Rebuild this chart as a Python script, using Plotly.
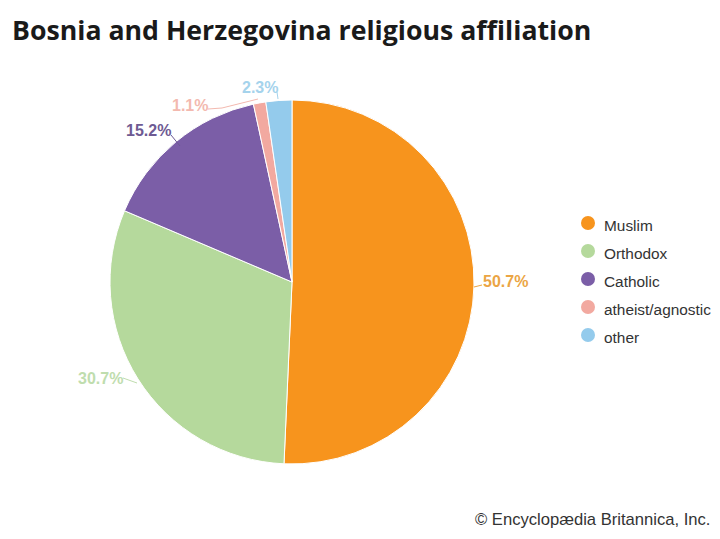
import plotly.graph_objects as go

categories = ["Muslim", "Orthodox", "Catholic", "atheist/agnostic", "other"]
shares = [50.7, 30.7, 15.2, 1.1, 2.3]
colors = ["#F7941D", "#B5D99C", "#7B5EA7", "#F2A9A0", "#94CBEC"]
label_colors = ["#EBA544", "#BFDDAE", "#6E5A93", "#F3B9AF", "#A5D3EC"]
# where each percentage label sits, as pixels in the 720x539 page
label_spots = [(505, 281), (100, 378), (148, 130), (190, 105), (260, 87)]
# little lines from the pie out to the labels
leaders = [
    [(474, 287), (482, 285)],
    [(123, 378), (137, 383)],
    [(171, 135), (180, 146)],
    [(208, 109), (222, 108), (258, 99)],
    [(277, 92), (278, 99)],
]

# the page has an 8px body margin, so the figure is smaller than the window
W, H = 704, 523
MARGIN = 8


def px_x(v):
    return (v - MARGIN) / W


def px_y(v):
    return 1 - (v - MARGIN) / H


fig = go.Figure()

fig.add_trace(go.Pie(
    labels=categories,
    values=shares,
    sort=False,
    direction="clockwise",
    rotation=0,
    textinfo="none",
    hoverinfo="label+percent",
    showlegend=False,
    marker=dict(colors=colors, line=dict(color="white", width=1)),
    domain=dict(x=[px_x(110), px_x(474)], y=[px_y(464), px_y(100)]),
))

# native legend can't get this spacing, so the key is a small scatter on its own axes
fig.add_trace(go.Scatter(
    x=[0] * len(categories), y=categories, mode="markers", showlegend=False,
    hoverinfo="y", cliponaxis=False,
    marker=dict(color=colors, size=14, symbol="circle"),
))

annotations = []
for value, color, (x, y) in zip(shares, label_colors, label_spots):
    annotations.append(dict(
        x=px_x(x), y=px_y(y), xref="paper", yref="paper", showarrow=False,
        xanchor="center", yanchor="middle",
        text=f"<b>{value}%</b>",
        font=dict(family="Liberation Sans", size=16, color=color),
    ))
for name in categories:
    annotations.append(dict(
        x=0, y=name, xref="x", yref="y", showarrow=False,
        xanchor="left", xshift=14, yshift=-3, text=name,
        font=dict(family="Liberation Sans", size=15.4, color="#333333"),
    ))
# kept a touch high so the text box stays inside the figure
annotations.append(dict(
    x=px_x(710), y=px_y(519), xref="paper", yref="paper", showarrow=False,
    xanchor="right", yanchor="middle", text="© Encyclopædia Britannica, Inc.",
    borderpad=0, borderwidth=0,
    font=dict(family="Liberation Sans", size=16.6, color="#333333"),
))

shapes = []
for pts, color in zip(leaders, label_colors):
    path = "M " + " L ".join(f"{px_x(x)} {px_y(y)}" for x, y in pts)
    shapes.append(dict(type="path", path=path, xref="paper", yref="paper",
                       line=dict(color=color, width=1)))

fig.update_layout(
    width=W,
    height=H,
    margin=dict(l=0, r=0, t=0, b=0),
    paper_bgcolor="white",
    plot_bgcolor="white",
    title=dict(
        text="<b>Bosnia and Herzegovina religious affiliation</b>",
        x=px_x(12), xanchor="left", y=px_y(31), yanchor="middle",
        font=dict(family="Open Sans", size=26.7, color="#1a1a1a"),
    ),
    xaxis=dict(visible=False, domain=[px_x(578), px_x(598)], range=[-1, 1], fixedrange=True),
    yaxis=dict(visible=False, domain=[px_y(349), px_y(209)], type="category",
               categoryorder="array", categoryarray=categories,
               range=[4.5, -0.5], fixedrange=True),
    annotations=annotations,
    shapes=shapes,
)

fig.write_html("out.html", config=dict(displayModeBar=False))
